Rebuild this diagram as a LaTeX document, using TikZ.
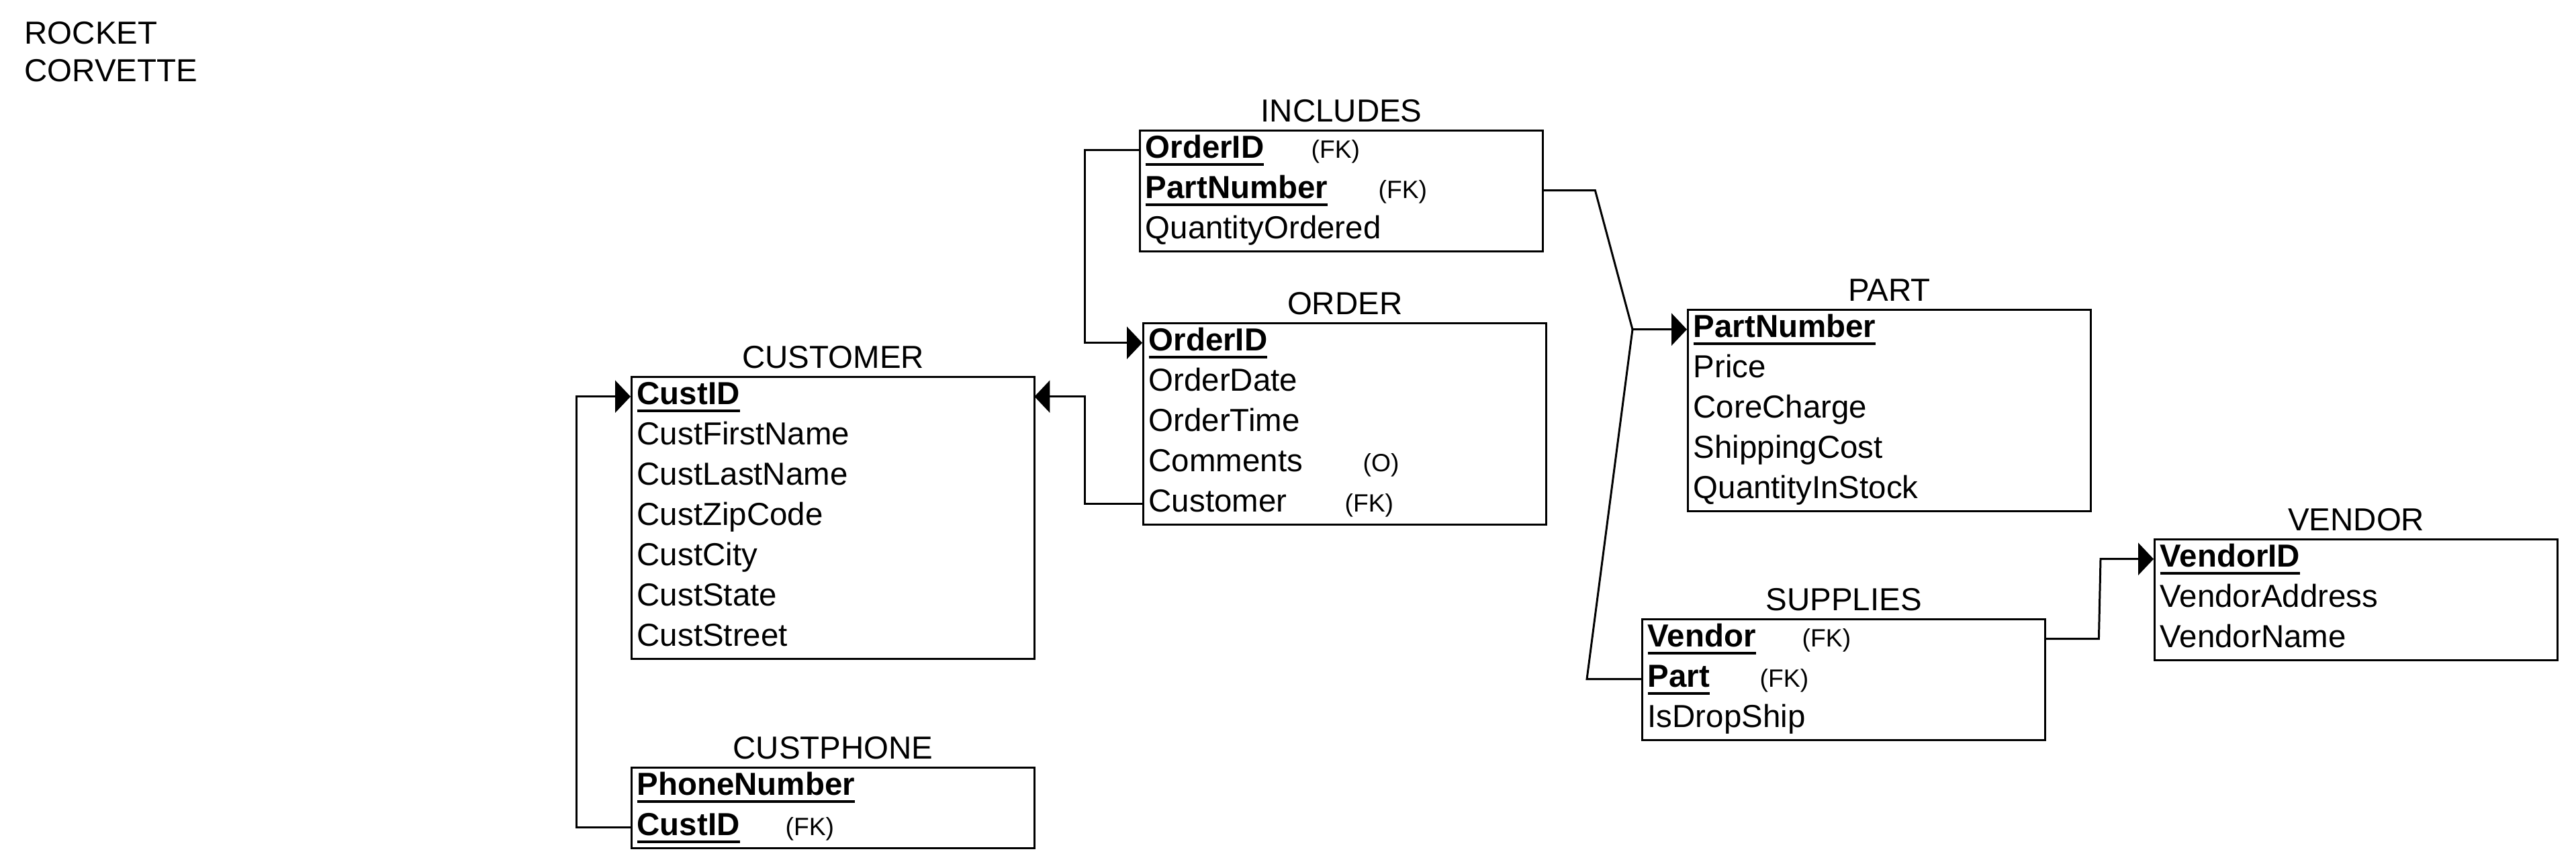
\documentclass[tikz,border=0pt]{standalone}
\usepackage{fontspec}
\setmainfont{Liberation Sans}
\usetikzlibrary{arrows.meta,calc,positioning}
\newlength\keywd
\newcommand{\pkey}[1]{\settowidth{\keywd}{\bfseries #1}\textbf{#1}\llap{\rule[-0.11cm]{\keywd}{0.04cm}}}
\tikzset{
  every node/.style={font=\fontsize{13.5pt}{16pt}\selectfont},
  tbl/.style={draw, line width=0.95pt, anchor=north west, minimum width=6cm, inner sep=0pt},
  row/.style={anchor=north west, inner xsep=0.09cm, inner ysep=0pt, text height=0.42cm, text depth=0.18cm, text width=5.82cm, align=left},
  title/.style={anchor=base, inner sep=0pt},
  fk/.style={anchor=base west, inner sep=0pt, font=\fontsize{10.6pt}{12pt}\selectfont},
  note/.style={anchor=base west, inner sep=0pt},
  rel/.style={line width=0.85pt, -{Triangle[length=0.23cm,width=0.48cm]}},
  link/.style={line width=0.85pt}
}
\begin{document}
\begin{tikzpicture}
\useasboundingbox (0,0) rectangle (38.36,-12.92);
\node[note] (rocket) at (0.36,-0.65) {ROCKET};
\node[note] (corvette) at ([yshift=-0.56cm]rocket.base west) {CORVETTE};
% tables
\node[tbl, minimum height=1.8cm] (inc) at (16.96,-1.93) {};
\node[title] (inc-t) at ([yshift=0.12cm]inc.north) {INCLUDES};
\foreach \t [count=\i] in {{\pkey{OrderID}},{\pkey{PartNumber}},QuantityOrdered}
  \node[row] (inc-\i) at ($(inc.north west)+(0,{-(\i-1)*0.6})$) {\t};
\node[fk] (inc-fk1) at ($(inc-1.base west)+(2.56,0)$) {(FK)};
\node[fk] (inc-fk2) at ($(inc-2.base west)+(3.56,0)$) {(FK)};

\node[tbl, minimum height=3cm] (ord) at (17.01,-4.80) {};
\node[title] (ord-t) at ([yshift=0.12cm]ord.north) {ORDER};
\foreach \t [count=\i] in {{\pkey{OrderID}},OrderDate,OrderTime,Comments,Customer}
  \node[row] (ord-\i) at ($(ord.north west)+(0,{-(\i-1)*0.6})$) {\t};
\node[fk] (ord-o4) at ($(ord-4.base west)+(3.28,0)$) {(O)};
\node[fk] (ord-fk5) at ($(ord-5.base west)+(3.01,0)$) {(FK)};

\node[tbl, minimum height=4.2cm] (cust) at (9.39,-5.60) {};
\node[title] (cust-t) at ([yshift=0.12cm]cust.north) {CUSTOMER};
\foreach \t [count=\i] in {{\pkey{CustID}},CustFirstName,CustLastName,CustZipCode,CustCity,CustState,CustStreet}
  \node[row] (cust-\i) at ($(cust.north west)+(0,{-(\i-1)*0.6})$) {\t};

\node[tbl, minimum height=1.2cm] (phone) at (9.39,-11.42) {};
\node[title] (phone-t) at ([yshift=0.12cm]phone.north) {CUSTPHONE};
\foreach \t [count=\i] in {{\pkey{PhoneNumber}},{\pkey{CustID}}}
  \node[row] (phone-\i) at ($(phone.north west)+(0,{-(\i-1)*0.6})$) {\t};
\node[fk] (phone-fk2) at ($(phone-2.base west)+(2.30,0)$) {(FK)};

\node[tbl, minimum height=3cm] (part) at (25.12,-4.60) {};
\node[title] (part-t) at ([yshift=0.12cm]part.north) {PART};
\foreach \t [count=\i] in {{\pkey{PartNumber}},Price,CoreCharge,ShippingCost,QuantityInStock}
  \node[row] (part-\i) at ($(part.north west)+(0,{-(\i-1)*0.6})$) {\t};

\node[tbl, minimum height=1.8cm] (sup) at (24.44,-9.21) {};
\node[title] (sup-t) at ([yshift=0.12cm]sup.north) {SUPPLIES};
\foreach \t [count=\i] in {{\pkey{Vendor}},{\pkey{Part}},IsDropShip}
  \node[row] (sup-\i) at ($(sup.north west)+(0,{-(\i-1)*0.6})$) {\t};
\node[fk] (sup-fk1) at ($(sup-1.base west)+(2.39,0)$) {(FK)};
\node[fk] (sup-fk2) at ($(sup-2.base west)+(1.76,0)$) {(FK)};

\node[tbl, minimum height=1.8cm] (ven) at (32.07,-8.02) {};
\node[title] (ven-t) at ([yshift=0.12cm]ven.north) {VENDOR};
\foreach \t [count=\i] in {{\pkey{VendorID}},VendorAddress,VendorName}
  \node[row] (ven-\i) at ($(ven.north west)+(0,{-(\i-1)*0.6})$) {\t};

% relationships
\coordinate (bendL) at (16.15,0);
\coordinate (bendC) at (8.58,0);
\coordinate (jpart) at ($(part-1.west)+(-0.81,0)$);
\draw[rel] (inc-1.west) -- (inc-1.west -| bendL) |- (ord-1.west);
\draw[rel] (ord-5.west) -- (ord-5.west -| bendL) |- (cust-1.east);
\draw[rel] (phone-2.west) -- (phone-2.west -| bendC) |- (cust-1.west);
\draw[rel] (inc-2.east) -- ++(0.78,0) -- (jpart) -- (part-1.west);
\draw[link] (sup-2.west) -- ++(-0.81,0) -- (jpart);
\draw[rel] (sup-1.east) -- ++(0.80,0) -- ($(ven-1.west)+(-0.79,0)$) -- (ven-1.west);
\end{tikzpicture}
\end{document}
